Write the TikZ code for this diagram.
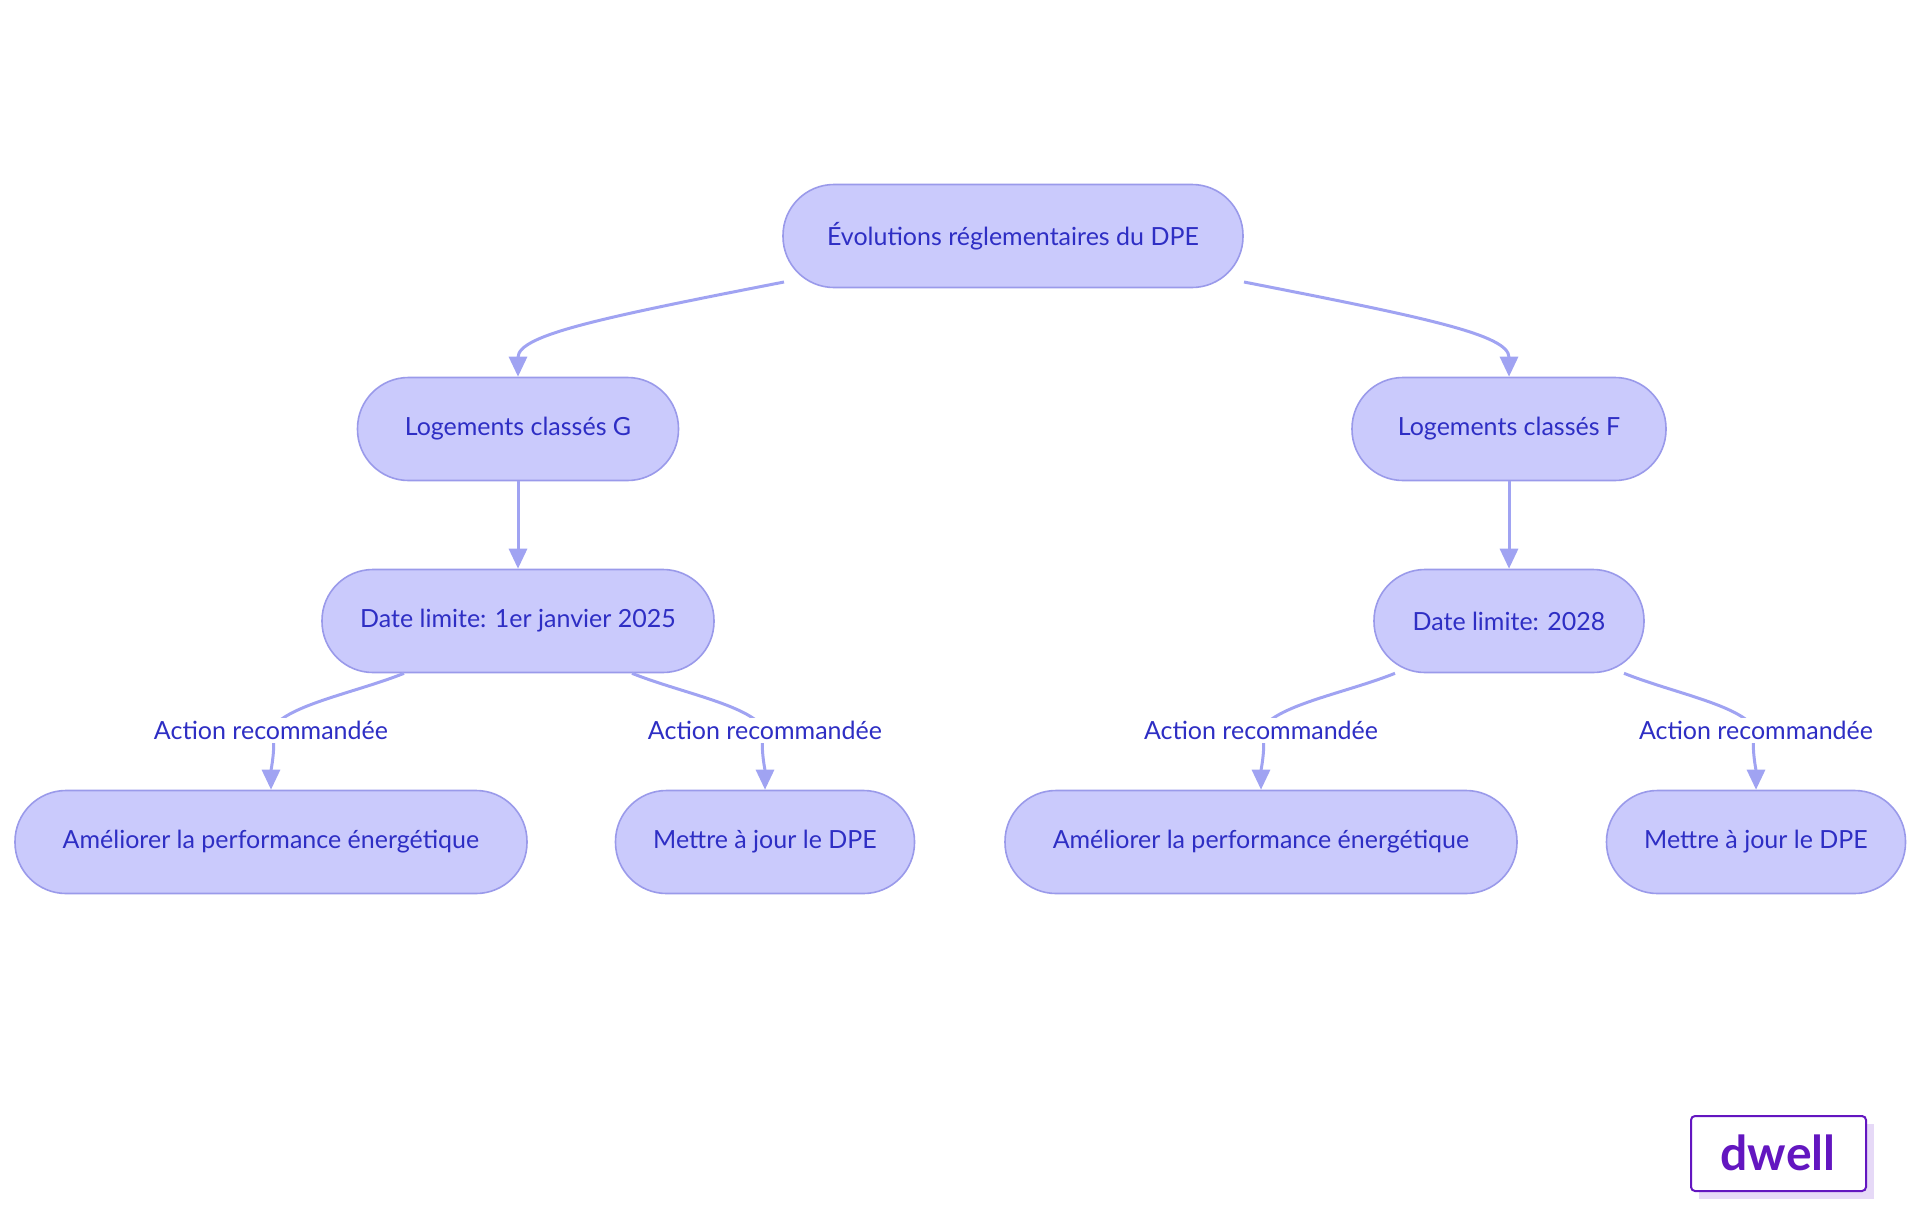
\documentclass[tikz,border=0pt]{standalone}
\usepackage{fontspec}
\setmainfont{Lato}
\usetikzlibrary{arrows.meta,calc}
\definecolor{nfill}{HTML}{CACAFC}
\definecolor{ndraw}{HTML}{9A9AEA}
\definecolor{ntext}{HTML}{2E2EC4}
\definecolor{edge}{HTML}{A0A3F2}
\definecolor{logo}{HTML}{6316C0}
\definecolor{logosh}{HTML}{E6D9F7}
\begin{document}
\begin{tikzpicture}[x=0.5pt,y=-0.5pt,
  box/.style={draw=ndraw,fill=nfill,line width=0.8pt,rounded corners=25.5pt,minimum height=51.5pt,text=ntext,font=\fontsize{12.5}{14}\selectfont,inner sep=0pt},
  lbl/.style={fill=white,text=ntext,font=\fontsize{12.5}{14}\selectfont,inner sep=1.5pt},
  arr/.style={draw=edge,line width=1.5pt,-{Triangle[length=10pt,width=9pt]}}]
\useasboundingbox (0,0) rectangle (1920,1215);
\node[box,minimum width=230pt] (top) at (1013,236) {Évolutions réglementaires du DPE};
\node[box,minimum width=160.5pt] (g) at (518,429) {Logements classés G};
\node[box,minimum width=157pt] (f) at (1509,429) {Logements classés F};
\node[box,minimum width=196pt] (dg) at (518,621) {Date limite: 1er janvier 2025};
\node[box,minimum width=135pt] (df) at (1509,621) {Date limite: 2028};
\node[box,minimum width=256pt] (a1) at (271,842) {Améliorer la performance énergétique};
\node[box,minimum width=149.5pt] (m1) at (765,842) {Mettre à jour le DPE};
\node[box,minimum width=256pt] (a2) at (1261,842) {Améliorer la performance énergétique};
\node[box,minimum width=149.5pt] (m2) at (1756,842) {Mettre à jour le DPE};
\coordinate (t1) at (784,282); \coordinate (t2) at (1244,282);
\draw[arr] (t1) .. controls (600,318) and (518,335) .. (g.north);
\draw[arr] (t2) .. controls (1428,318) and (1509,335) .. (f.north);
\draw[arr] (g) -- (dg);
\draw[arr] (f) -- (df);
\foreach \d/\l/\o/\s in {dg/a1/-114/-1, dg/m1/114/1, df/a2/-114/-1, df/m2/115/1}{
  \coordinate (s) at ([xshift=\o*0.5pt]\d.south);
  \path (\l.north) ++(0,-59) coordinate (lc);
  \draw[arr] (s) .. controls ++(50*\s,20) and ($(lc)+(-12*\s,-25)$) .. (lc) .. controls ++(-6*\s,10) and ++(0,-20) .. (\l.north);
  \node[lbl] at (lc) {Action recommandée};
}
\fill[logosh] (1699,1124) rectangle (1874,1199);
\draw[logo,line width=1pt,fill=white,rounded corners=2pt] (1691,1116) rectangle (1866,1191);
\node[text=logo,font=\fontsize{24}{26}\selectfont\bfseries] (lg) at (1778,1153) {dwell};
\end{tikzpicture}
\end{document}
